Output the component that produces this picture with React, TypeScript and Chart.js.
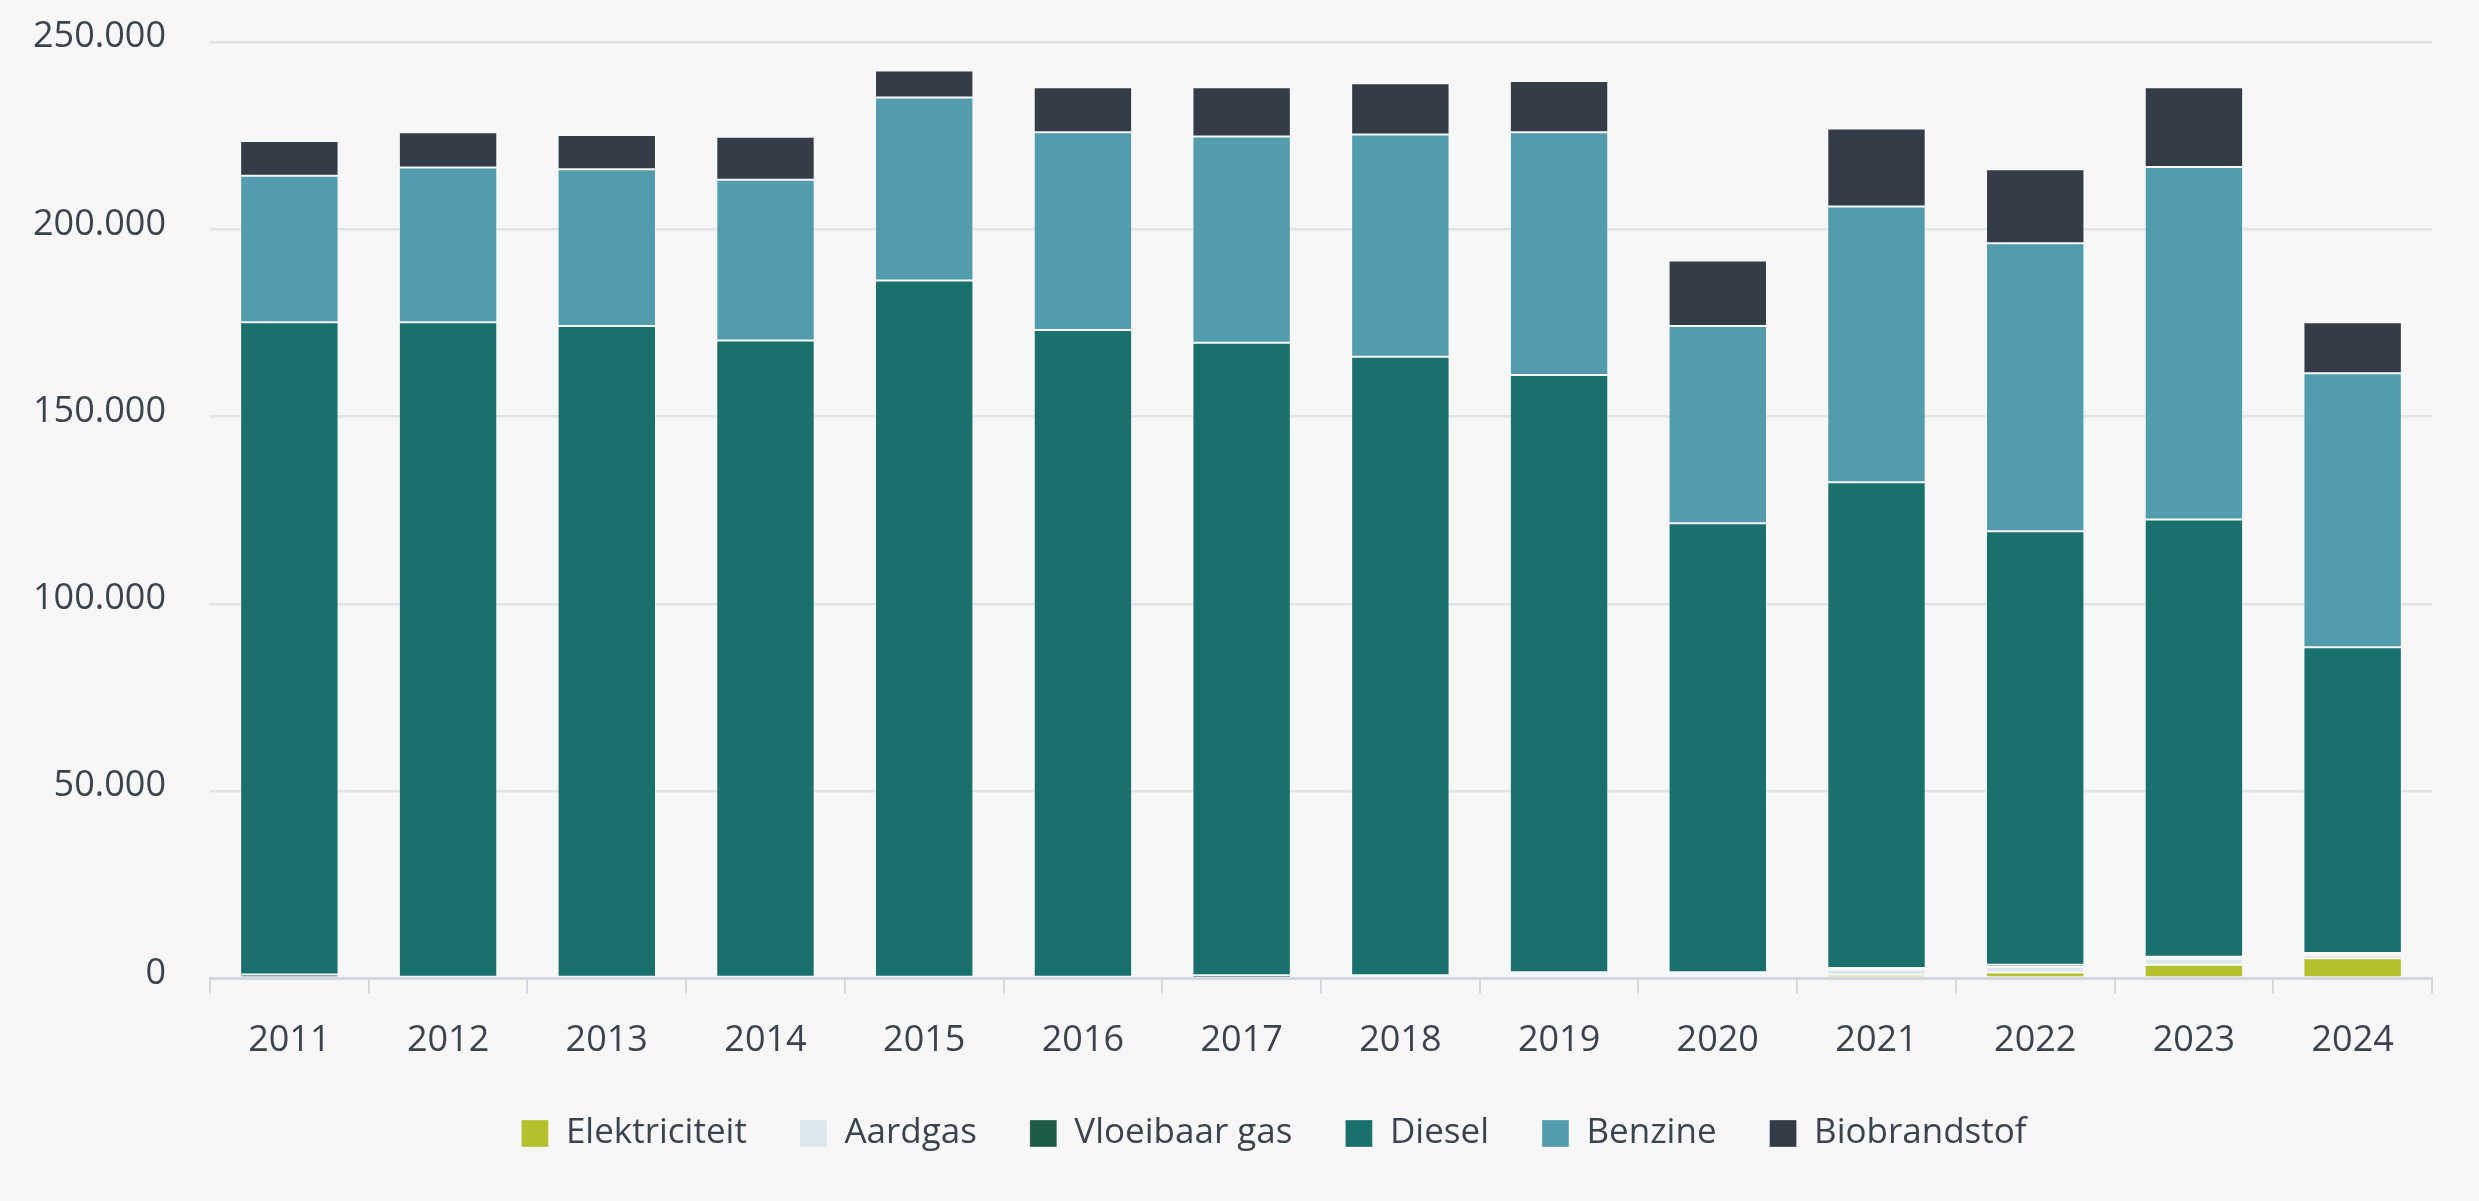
import React, { useEffect, useRef } from "react";
import { Chart, registerables } from "chart.js";

Chart.register(...registerables);

const years = ["2011","2012","2013","2014","2015","2016","2017","2018","2019","2020","2021","2022","2023","2024"];
const elektriciteit = [0, 0, 0, 0, 0, 0, 0, 0, 0.7, 0.7, 1.0, 1.6, 3.7, 5.4].map(v => v * 1000);
const aardgas = [0, 0, 0, 0, 0, 0, 0.2, 0.5, 0.6, 0.6, 1.4, 1.5, 1.6, 0.9].map(v => v * 1000);
const vloeibaarGas = [1.1, 0.5, 0.5, 0.5, 0.5, 0.5, 0.7, 0.4, 0.4, 0.4, 0.4, 0.6, 0.5, 0.5].map(v => v * 1000);
const diesel = [174.1, 174.7, 173.7, 169.8, 185.8, 172.6, 168.8, 165.1, 159.4, 119.8, 129.7, 115.7, 116.7, 81.6].map(v => v * 1000);
const benzine = [39.1, 41.3, 41.8, 42.9, 48.9, 52.8, 55.1, 59.3, 64.8, 52.7, 73.6, 76.9, 94.1, 73.2].map(v => v * 1000);
const biobrandstof = [9.3, 9.4, 9.2, 11.5, 7.2, 12.0, 13.1, 13.7, 13.7, 17.5, 20.8, 19.7, 21.3, 13.6].map(v => v * 1000);

const seriesNames = ["Elektriciteit", "Aardgas", "Vloeibaar gas", "Diesel", "Benzine", "Biobrandstof"];
const seriesColors = ["#b4c12d", "#dbe8eb", "#1d5b45", "#1a706c", "#539cae", "#343c48"];

const W = 2479;
const H = 1201;
const TEXT = "#3c4350";
const FONT = "'Open Sans', 'Noto Sans', sans-serif";

const legendShift = {
  id: "legendShift",
  afterLayout(chart: any) {
    if (chart.legend) {
      chart.legend.left = 116;
    }
  },
};

export default function App() {
  const ref = useRef<HTMLCanvasElement | null>(null);

  useEffect(() => {
    if (!ref.current) return;
    const values = [elektriciteit, aardgas, vloeibaarGas, diesel, benzine, biobrandstof];
    const chart = new Chart(ref.current, {
      type: "bar",
      data: {
        labels: years,
        datasets: seriesNames.map((name, i) => ({
          label: name,
          data: values[i],
          backgroundColor: seriesColors[i],
          borderColor: "rgba(255,255,255,0.3)",
          borderWidth: 1,
          borderSkipped: false,
          categoryPercentage: 1,
          barPercentage: 0.62,
        })),
      },
      plugins: [legendShift],
      options: {
        animation: false,
        responsive: false,
        devicePixelRatio: 1,
        layout: { padding: { left: 0, right: 47, top: 42, bottom: 40 } },
        plugins: {
          tooltip: { enabled: false },
          legend: {
            position: "bottom",
            labels: {
              boxWidth: 27,
              boxHeight: 27,
              padding: 53,
              color: TEXT,
              font: { family: FONT, size: 35 },
            },
          },
        },
        scales: {
          x: {
            stacked: true,
            grid: {
              offset: true,
              drawOnChartArea: false,
              drawTicks: true,
              tickLength: 15,
              color: "#d3d8df",
              lineWidth: 2,
            },
            border: { display: true, color: "#d3d8df", width: 3 },
            ticks: {
              color: TEXT,
              padding: 26,
              font: { family: FONT, size: 36 },
            },
            afterFit: (scale: any) => {
              scale.height = 84.5;
            },
          },
          y: {
            stacked: true,
            min: 0,
            max: 250000,
            grid: {
              color: "#e0e4e9",
              lineWidth: 2.5,
              drawTicks: true,
              tickLength: 44,
              tickColor: "rgba(0,0,0,0)",
            },
            border: { display: false },
            ticks: {
              stepSize: 50000,
              color: TEXT,
              padding: 0,
              labelOffset: -5,
              font: { family: FONT, size: 36 },
              callback: (v: any) => Number(v).toLocaleString("nl-NL"),
            },
            afterFit: (scale: any) => {
              scale.width = 210;
            },
          },
        },
      },
    });
    return () => chart.destroy();
  }, []);

  return (
    <div style={{ position: "fixed", left: 0, top: 0, width: W, height: H, background: "#f7f7f8" }}>
      <canvas ref={ref} width={W} height={H} style={{ display: "block", width: W, height: H }} />
    </div>
  );
}
